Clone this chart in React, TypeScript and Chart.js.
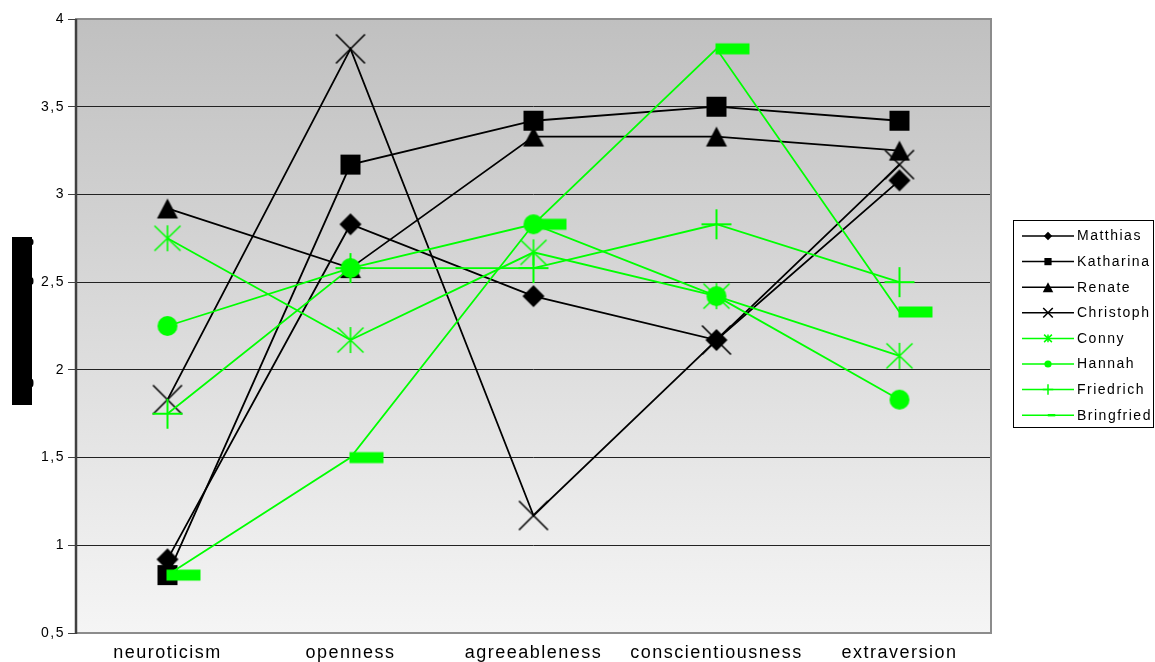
import { useEffect, useRef } from 'react';
import { Chart, registerables } from 'chart.js';

Chart.register(...registerables);

const categories = ['neuroticism', 'openness', 'agreeableness', 'conscientiousness', 'extraversion'];

const matthias = [0.92, 2.83, 2.42, 2.17, 3.08];
const katharina = [0.83, 3.17, 3.42, 3.5, 3.42];
const renate = [2.92, 2.58, 3.33, 3.33, 3.25];
const christoph = [1.83, 3.83, 1.17, 2.17, 3.17];
const conny = [2.75, 2.17, 2.67, 2.42, 2.08];
const hannah = [2.25, 2.58, 2.83, 2.42, 1.83];
const friedrich = [1.75, 2.58, 2.58, 2.83, 2.5];
const bringfried = [0.83, 1.5, 2.83, 3.83, 2.33];

const seriesNames = ['Matthias', 'Katharina', 'Renate', 'Christoph', 'Conny', 'Hannah', 'Friedrich', 'Bringfried'];
const seriesValues = [matthias, katharina, renate, christoph, conny, hannah, friedrich, bringfried];
const seriesColors = ['#000000', '#000000', '#000000', '#000000', '#00ff00', '#00ff00', '#00ff00', '#00ff00'];
const seriesMarkers = ['diamond', 'square', 'triangle', 'x', 'asterisk', 'circle', 'plus', 'dash'];

const yMin = 0.5;
const yMax = 4;
const yStep = 0.5;

const FONT = '"Liberation Sans", Arial, sans-serif';

function drawMarker(ctx: CanvasRenderingContext2D, kind: string, x: number, y: number, s: number, color: string, lw: number) {
  ctx.save();
  ctx.fillStyle = color;
  ctx.strokeStyle = color;
  ctx.lineWidth = lw;
  ctx.lineCap = 'butt';
  ctx.beginPath();
  switch (kind) {
    case 'diamond':
      ctx.moveTo(x, y - 11 * s);
      ctx.lineTo(x + 11 * s, y);
      ctx.lineTo(x, y + 11 * s);
      ctx.lineTo(x - 11 * s, y);
      ctx.closePath();
      ctx.fill();
      break;
    case 'square':
      ctx.fillRect(x - 10 * s, y - 10 * s, 20 * s, 20 * s);
      break;
    case 'triangle':
      ctx.moveTo(x, y - 10 * s);
      ctx.lineTo(x + 10.5 * s, y + 10 * s);
      ctx.lineTo(x - 10.5 * s, y + 10 * s);
      ctx.closePath();
      ctx.fill();
      break;
    case 'x':
      ctx.moveTo(x - 14.5 * s, y - 14.5 * s);
      ctx.lineTo(x + 14.5 * s, y + 14.5 * s);
      ctx.moveTo(x + 14.5 * s, y - 14.5 * s);
      ctx.lineTo(x - 14.5 * s, y + 14.5 * s);
      ctx.stroke();
      break;
    case 'asterisk':
      ctx.moveTo(x - 13 * s, y - 12.5 * s);
      ctx.lineTo(x + 13 * s, y + 12.5 * s);
      ctx.moveTo(x + 13 * s, y - 12.5 * s);
      ctx.lineTo(x - 13 * s, y + 12.5 * s);
      ctx.moveTo(x, y - 13 * s);
      ctx.lineTo(x, y + 13 * s);
      ctx.stroke();
      break;
    case 'circle':
      ctx.arc(x, y, 10 * s, 0, Math.PI * 2);
      ctx.fill();
      break;
    case 'plus':
      ctx.moveTo(x - 15 * s, y);
      ctx.lineTo(x + 15 * s, y);
      ctx.moveTo(x, y - 15 * s);
      ctx.lineTo(x, y + 15 * s);
      ctx.stroke();
      break;
    case 'dash':
      ctx.fillRect(x - 1 * s, y - 5.5 * s, 34 * s, 11 * s);
      break;
  }
  ctx.restore();
}

function makeMarkerCanvas(kind: string, color: string) {
  const c = document.createElement('canvas');
  c.width = 72;
  c.height = 72;
  const ctx = c.getContext('2d')!;
  drawMarker(ctx, kind, 36, 36, 1, color, kind === 'plus' ? 2 : 1.6);
  return c;
}

const legendScale: Record<string, number> = {
  diamond: 0.38, square: 0.36, triangle: 0.5, x: 0.33, asterisk: 0.3, circle: 0.36, plus: 0.35, dash: 0.22,
};

const decorPlugin = {
  id: 'decor',
  beforeDraw(chart: any) {
    const ctx: CanvasRenderingContext2D = chart.ctx;
    (ctx as any).letterSpacing = '1.5px';
    const a = chart.chartArea;
    const g = ctx.createLinearGradient(0, a.top, 0, a.bottom);
    g.addColorStop(0, '#c0c0c0');
    g.addColorStop(1, '#f5f5f5');
    ctx.save();
    ctx.fillStyle = g;
    ctx.fillRect(a.left, a.top, a.right - a.left, a.bottom - a.top);
    // redaction block at left (hidden axis title)
    ctx.fillStyle = '#000';
    ctx.fillRect(12, 237, 20, 168);
    ctx.beginPath();
    ctx.ellipse(32, 242, 1.5, 3, 0, 0, Math.PI * 2);
    ctx.ellipse(32, 281, 1.5, 3.5, 0, 0, Math.PI * 2);
    ctx.ellipse(32, 383, 1.5, 4, 0, 0, Math.PI * 2);
    ctx.fill();
    ctx.restore();
  },
  beforeDatasetsDraw(chart: any) {
    const ctx: CanvasRenderingContext2D = chart.ctx;
    const a = chart.chartArea;
    ctx.save();
    ctx.strokeStyle = '#8c8c8c';
    ctx.lineWidth = 2;
    ctx.strokeRect(a.left, a.top, a.right - a.left, a.bottom - a.top);
    ctx.strokeStyle = '#404040';
    ctx.lineWidth = 2.5;
    ctx.beginPath();
    ctx.moveTo(a.left, a.top);
    ctx.lineTo(a.left, a.bottom + 1);
    ctx.stroke();
    ctx.restore();
  },
  afterDraw(chart: any) {
    const ctx: CanvasRenderingContext2D = chart.ctx;
    ctx.save();
    (ctx as any).letterSpacing = '1.5px';
    ctx.strokeStyle = '#000';
    ctx.lineWidth = 1;
    ctx.strokeRect(1013.5, 220.5, 140, 207);
    const x0 = 1022;
    const x1 = 1074;
    const xm = 1048;
    chart.data.datasets.forEach((ds: any, i: number) => {
      const y = 236 + i * 25.6;
      const kind = seriesMarkers[i];
      const color = seriesColors[i];
      ctx.strokeStyle = color;
      ctx.lineWidth = 1.5;
      ctx.beginPath();
      ctx.moveTo(x0, y);
      ctx.lineTo(x1, y);
      ctx.stroke();
      drawMarker(ctx, kind, xm, y, legendScale[kind], color, 1.5);
      ctx.fillStyle = '#000';
      ctx.font = '14px ' + FONT;
      ctx.textBaseline = 'middle';
      ctx.textAlign = 'left';
      ctx.fillText(ds.label, 1077, y + 0.5);
    });
    ctx.restore();
  },
};

export default function App() {
  const ref = useRef<HTMLCanvasElement | null>(null);
  useEffect(() => {
    if (!ref.current) return;
    const datasets = seriesNames.map((name, i) => {
      const img = makeMarkerCanvas(seriesMarkers[i], seriesColors[i]);
      return {
        label: name,
        data: seriesValues[i],
        borderColor: seriesColors[i],
        backgroundColor: seriesColors[i],
        borderWidth: 1.8,
        pointStyle: img as any,
        pointRadius: 10,
        pointHoverRadius: 10,
        tension: 0,
        fill: false,
        order: seriesNames.length - i,
      };
    });
    const chart = new Chart(ref.current, {
      type: 'line',
      data: { labels: categories, datasets },
      options: {
        animation: false,
        responsive: false,
        events: [],
        layout: { padding: { left: 0, top: 19, right: 164, bottom: 0 } },
        plugins: { legend: { display: false }, tooltip: { enabled: false } },
        scales: {
          x: {
            type: 'category',
            offset: true,
            grid: { display: false },
            border: { display: false },
            ticks: {
              color: '#000',
              font: { family: FONT, size: 18 },
              padding: 1,
              maxRotation: 0,
              autoSkip: false,
            },
            afterFit: (s: any) => { s.height = 29; },
          },
          y: {
            min: yMin,
            max: yMax,
            border: { display: false },
            grid: {
              color: (c: any) => (c.tick && (c.tick.value === yMin || c.tick.value === yMax) ? 'rgba(0,0,0,0)' : '#222'),
              lineWidth: 1,
              tickColor: '#404040',
              tickLength: 8,
              drawTicks: true,
            },
            ticks: {
              stepSize: yStep,
              color: '#000',
              font: { family: FONT, size: 14 },
              padding: 3,
              callback: (v: any) => String(v).replace('.', ','),
            },
            afterFit: (s: any) => { s.width = 76; },
          },
        },
      },
      plugins: [decorPlugin],
    });
    return () => chart.destroy();
  }, []);
  return (
    <div style={{ position: 'fixed', left: 0, top: 0, width: 1155, height: 662, background: '#fff' }}>
      <canvas ref={ref} width={1155} height={662} style={{ display: 'block', width: 1155, height: 662 }} />
    </div>
  );
}
